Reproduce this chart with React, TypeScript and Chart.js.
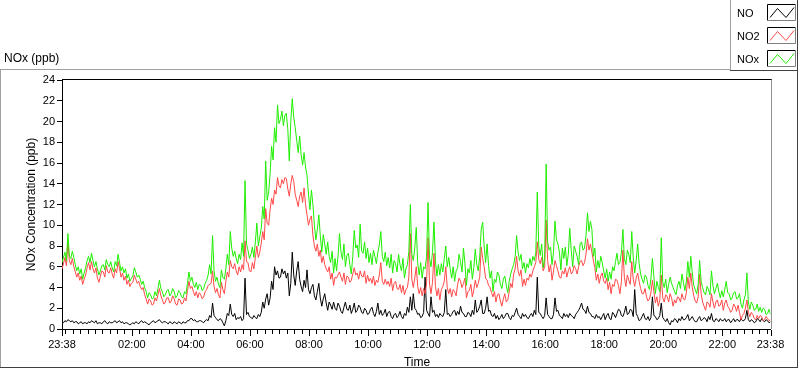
import React, { useEffect, useRef } from 'react';
import { Chart, registerables } from 'chart.js';

Chart.register(...registerables);

// Sampling interval of the series (minutes after 23:38)
const STEP_MINUTES = 3;

// NOx (ppb)
const NOX = [
  6.4, 6.9, 7.4, 6.6, 9.2, 7.0, 6.8, 7.5, 6.9, 6.2,
  5.6, 6.0, 5.3, 5.8, 4.8, 5.4, 5.9, 6.6, 7.0, 6.4,
  7.3, 6.6, 6.0, 6.5, 5.8, 5.2, 5.6, 6.1, 6.2, 5.7,
  6.7, 6.2, 6.0, 6.5, 5.9, 5.5, 6.5, 6.1, 7.2, 6.4,
  5.6, 6.0, 5.4, 5.8, 4.9, 5.3, 4.6, 4.9, 5.1, 5.9,
  5.5, 5.0, 5.2, 4.8, 4.3, 4.6, 4.0, 3.6, 3.0, 3.5,
  3.3, 2.9, 3.0, 3.6, 3.2, 3.9, 4.7, 3.9, 3.6, 3.1,
  3.3, 3.7, 3.8, 3.2, 3.4, 3.9, 3.6, 3.0, 3.2, 3.7,
  3.5, 3.1, 3.0, 3.6, 3.4, 4.4, 5.5, 4.6, 5.0, 4.3,
  4.0, 4.5, 3.8, 4.3, 4.2, 3.7, 3.9, 4.4, 4.7, 5.2,
  6.2, 5.3, 9.0, 5.6, 4.6, 5.0, 4.3, 4.0, 5.7, 5.0,
  4.8, 5.8, 7.2, 6.2, 9.4, 7.8, 7.0, 7.5, 6.8, 6.3,
  7.2, 6.7, 8.3, 7.0, 14.3, 8.2, 7.6, 6.8, 7.2, 7.9,
  6.9, 8.4, 10.2, 8.0, 8.9, 9.7, 11.8, 10.6, 16.2, 12.4,
  13.2, 15.0, 17.6, 16.3, 19.4, 18.0, 21.6, 19.8, 20.2, 21.0,
  19.6, 20.6, 20.8, 19.2, 16.2, 20.0, 22.2, 20.4, 19.4, 18.2,
  17.0, 18.6, 16.8, 15.8, 17.0, 15.6, 14.8, 13.0, 11.5, 13.4,
  12.0, 10.0, 8.6, 9.6, 11.0, 9.0, 7.4, 9.1, 8.2, 7.2,
  8.4, 7.0, 6.4, 7.5, 5.4, 6.8, 5.6, 7.0, 9.2, 7.4,
  6.7, 8.2, 6.0, 7.1, 7.3, 6.2, 5.3, 7.0, 9.5, 7.8,
  8.1, 6.9, 10.1, 7.5, 7.3, 8.4, 6.8, 7.8, 6.4, 7.3,
  6.2, 7.6, 7.0, 6.3, 7.4, 8.1, 9.4, 7.0, 6.5, 7.4,
  6.1, 6.9, 5.9, 7.2, 5.4, 6.6, 6.3, 5.5, 7.2, 6.2,
  5.6, 6.8, 4.9, 5.8, 6.2, 7.5, 12.0, 7.2, 6.6, 7.8,
  9.8, 6.3, 5.2, 6.4, 4.9, 6.0, 5.8, 7.0, 12.2, 6.8,
  6.0, 7.4, 10.3, 6.6, 5.1, 6.2, 5.2, 6.3, 5.5, 6.8,
  8.0, 6.0, 6.9, 5.8, 4.9, 6.0, 4.6, 5.6, 5.9, 7.2,
  6.5, 5.5, 7.8, 6.3, 4.2, 5.8, 5.4, 6.6, 4.8, 5.9,
  7.7, 6.2, 5.6, 7.0, 9.6, 10.3, 8.0, 6.4, 8.2, 6.1,
  4.9, 5.6, 3.6, 4.8, 4.5, 5.5, 5.2, 4.3, 3.9, 4.8,
  5.1, 4.2, 3.5, 4.6, 5.3, 5.8, 6.2, 7.0, 9.0, 7.4,
  6.6, 7.2, 5.8, 6.4, 5.4, 6.3, 5.9, 6.8, 6.1, 7.0,
  6.6, 7.4, 13.2, 8.0, 7.1, 8.2, 5.9, 6.8, 15.9, 8.4,
  7.6, 7.9, 6.2, 7.4, 10.4, 8.6, 8.2, 7.4, 5.7, 7.8,
  6.8, 7.9, 6.1, 7.2, 9.7, 7.6, 6.0, 8.0, 7.5, 7.0,
  6.2, 8.2, 8.4, 7.6, 7.8, 9.0, 11.2, 9.4, 10.4, 9.6,
  7.0, 7.8, 5.5, 6.6, 5.9, 7.0, 6.4, 5.6, 4.9, 5.8,
  4.6, 5.5, 4.8, 6.0, 5.6, 6.5, 7.3, 6.2, 6.4, 7.4,
  9.6, 6.8, 6.2, 7.6, 7.2, 6.4, 9.4, 6.9, 5.4, 6.6,
  8.2, 6.3, 5.3, 4.8, 4.4, 5.2, 5.0, 4.2, 3.8, 4.9,
  6.8, 5.0, 3.4, 4.6, 4.0, 3.6, 8.8, 4.5, 4.0, 4.8,
  3.5, 4.3, 5.0, 4.4, 4.0, 3.6, 3.3, 4.2, 4.6, 3.9,
  5.3, 4.5, 3.7, 4.6, 6.5, 5.0, 7.0, 5.4, 4.2, 3.8,
  3.4, 4.3, 6.6, 4.6, 4.0, 3.5, 3.3, 4.1, 3.8, 3.3,
  5.6, 4.2, 3.4, 3.9, 4.4, 3.6, 3.0, 3.7, 3.1, 3.8,
  4.6, 3.5, 3.4, 2.8, 3.0, 3.5, 3.6, 2.9, 3.0, 3.4,
  2.4, 2.0, 2.8, 3.3, 5.4, 2.6, 1.9, 2.6, 2.3, 1.8,
  1.9, 2.4, 1.7, 2.1, 1.6, 2.0, 1.9, 1.4, 1.5, 1.9,
  1.4,
];

// NO2 (ppb)
const NO2 = [
  5.8, 6.3, 6.9, 6.1, 8.4, 6.6, 6.2, 6.8, 6.0, 5.5,
  5.0, 5.4, 4.7, 5.1, 4.3, 4.8, 5.2, 5.9, 6.4, 5.7,
  6.5, 5.8, 5.4, 5.9, 4.9, 4.5, 5.1, 5.6, 5.5, 5.0,
  6.1, 5.5, 5.4, 5.9, 5.3, 4.9, 5.8, 5.4, 6.5, 5.8,
  5.0, 5.4, 4.7, 5.1, 4.3, 4.7, 4.1, 4.4, 4.5, 5.2,
  4.8, 4.4, 4.6, 4.1, 3.8, 4.0, 3.3, 2.9, 2.4, 2.9,
  2.7, 2.3, 2.4, 3.0, 2.7, 3.3, 3.9, 3.2, 2.8, 2.4,
  2.6, 3.0, 3.0, 2.5, 2.7, 3.2, 2.9, 2.4, 2.3, 2.9,
  2.8, 2.4, 2.5, 3.0, 2.7, 3.7, 4.6, 3.9, 4.1, 3.6,
  3.2, 3.6, 3.0, 3.5, 3.3, 2.9, 3.1, 3.6, 3.8, 4.2,
  4.3, 4.4, 5.6, 4.1, 3.5, 3.9, 3.3, 3.0, 4.5, 3.8,
  3.4, 4.6, 5.5, 5.0, 6.6, 6.0, 5.8, 6.3, 5.6, 5.2,
  6.0, 5.5, 6.2, 5.7, 8.5, 6.5, 6.4, 5.6, 5.5, 6.4,
  5.8, 6.9, 8.0, 6.9, 7.4, 8.3, 9.4, 8.6, 11.6, 10.2,
  10.0, 11.5, 12.6, 12.0, 13.4, 13.0, 14.6, 13.8, 13.6, 14.4,
  14.0, 14.6, 14.5, 13.5, 12.8, 14.0, 14.8, 14.2, 13.0, 12.4,
  11.8, 12.8, 13.2, 12.2, 13.6, 12.0, 11.0, 10.0, 10.6, 10.9,
  9.0, 8.0, 7.5, 8.2, 7.0, 7.6, 6.4, 7.0, 6.2, 5.8,
  5.5, 6.0, 4.8, 5.4, 4.2, 5.0, 4.9, 5.2, 5.5, 5.0,
  4.6, 5.4, 4.3, 5.1, 5.0, 4.5, 4.7, 5.3, 5.9, 5.2,
  5.4, 4.8, 5.6, 5.1, 5.0, 5.6, 4.4, 5.2, 4.6, 4.9,
  4.4, 5.1, 4.2, 4.7, 4.5, 5.2, 6.4, 4.6, 4.3, 4.8,
  4.3, 4.6, 4.1, 4.9, 3.7, 4.4, 4.6, 3.9, 3.8, 4.3,
  3.5, 4.2, 3.3, 3.8, 4.0, 5.0, 9.2, 4.8, 4.0, 4.9,
  6.0, 4.1, 3.4, 4.0, 3.2, 3.9, 3.4, 4.4, 8.8, 4.3,
  3.4, 4.5, 7.3, 4.1, 3.2, 3.9, 2.8, 3.8, 4.1, 4.6,
  6.0, 4.0, 3.4, 3.9, 3.1, 3.8, 3.6, 3.2, 4.3, 4.9,
  4.6, 4.0, 4.4, 4.9, 3.0, 3.6, 3.7, 4.3, 3.1, 3.8,
  4.7, 4.0, 4.4, 5.0, 7.9, 6.8, 6.0, 4.9, 4.7, 4.2,
  4.0, 3.5, 3.1, 3.6, 2.6, 3.3, 3.4, 2.7, 2.2, 2.9,
  3.4, 2.6, 2.8, 3.6, 4.4, 4.0, 5.3, 5.8, 7.0, 5.6,
  5.1, 5.7, 4.1, 4.8, 4.2, 4.9, 4.7, 5.3, 5.0, 5.6,
  6.0, 6.4, 8.4, 6.7, 6.3, 6.9, 5.6, 6.0, 10.5, 6.6,
  5.5, 6.2, 4.7, 5.6, 6.6, 6.1, 5.6, 5.0, 4.9, 5.6,
  5.3, 5.9, 5.0, 5.6, 6.0, 5.3, 5.5, 6.1, 5.8, 5.3,
  6.0, 6.5, 6.6, 6.1, 6.4, 7.2, 8.7, 7.6, 8.2, 7.4,
  6.6, 5.9, 4.7, 5.3, 4.4, 5.1, 5.4, 4.6, 4.4, 4.9,
  3.8, 4.5, 3.4, 4.3, 4.1, 4.8, 4.7, 4.2, 3.4, 4.6,
  7.6, 5.0, 4.1, 5.2, 4.7, 4.3, 6.5, 4.8, 4.1, 4.9,
  5.4, 4.6, 3.9, 3.4, 3.4, 3.9, 3.1, 2.7, 2.9, 3.5,
  4.7, 3.6, 2.5, 3.1, 2.2, 2.8, 5.2, 3.0, 2.6, 3.3,
  3.1, 2.6, 3.4, 3.0, 2.2, 2.8, 2.5, 3.1, 3.0, 2.6,
  3.4, 2.9, 2.8, 3.5, 5.0, 3.9, 5.4, 4.0, 3.2, 2.7,
  2.5, 3.1, 5.3, 3.4, 2.6, 2.2, 1.8, 2.6, 2.5, 2.1,
  3.4, 2.6, 2.0, 2.6, 2.8, 2.2, 2.3, 2.8, 1.8, 2.5,
  2.8, 2.2, 2.0, 1.6, 1.8, 2.4, 2.2, 1.7, 2.3, 1.6,
  0.9, 1.3, 1.5, 2.0, 2.8, 1.6, 1.2, 1.6, 1.4, 1.0,
  0.9, 1.3, 1.0, 1.3, 1.2, 0.8, 0.9, 1.2, 1.0, 0.8,
  0.9,
];

// NO (ppb)
const NO = [
  0.7, 0.6, 0.8, 0.7, 0.9, 0.8, 0.7, 0.8, 0.6, 0.7,
  0.7, 0.5, 0.6, 0.7, 0.5, 0.6, 0.6, 0.5, 0.7, 0.6,
  0.8, 0.7, 0.6, 0.8, 0.5, 0.6, 0.6, 0.5, 0.7, 0.8,
  0.6, 0.5, 0.7, 0.6, 0.6, 0.7, 0.8, 0.6, 0.7, 0.8,
  0.6, 0.7, 0.5, 0.6, 0.6, 0.5, 0.4, 0.5, 0.6, 0.5,
  0.7, 0.6, 0.5, 0.7, 0.8, 0.6, 0.7, 0.6, 0.5, 0.4,
  0.6, 0.7, 0.8, 0.6, 0.7, 0.8, 0.9, 0.7, 0.6, 0.7,
  0.7, 0.6, 0.5, 0.7, 0.6, 0.5, 0.7, 0.6, 0.5, 0.7,
  0.6, 0.5, 0.7, 0.6, 0.6, 0.8, 0.8, 1.0, 1.0, 0.8,
  0.9, 0.7, 0.7, 0.8, 0.8, 0.7, 0.6, 0.8, 0.9, 0.8,
  1.3, 1.1, 2.5, 1.3, 1.1, 0.9, 0.8, 1.0, 0.9, 0.6,
  0.3, 0.8, 1.5, 1.3, 2.4, 1.4, 1.2, 1.5, 0.9, 1.1,
  1.0, 1.2, 0.8, 1.0, 4.9, 1.4, 1.6, 1.2, 1.1, 1.0,
  1.3, 1.1, 1.0, 1.4, 1.2, 1.6, 2.6, 2.0, 2.9, 3.4,
  2.3, 3.0, 4.6, 3.8, 6.0, 5.2, 5.6, 4.9, 5.0, 5.8,
  5.3, 5.6, 4.9, 5.4, 3.2, 4.4, 7.4, 5.2, 4.2, 5.6,
  6.5, 4.8, 4.1, 3.6, 4.7, 4.0, 5.7, 3.8, 3.4, 4.0,
  4.3, 3.2, 2.8, 3.6, 4.4, 3.0, 2.2, 2.9, 3.4, 2.5,
  1.8, 2.6, 2.3, 1.9, 2.6, 2.0, 1.8, 2.5, 2.2, 1.7,
  1.5, 2.1, 2.6, 1.9, 1.8, 2.3, 1.5, 1.9, 2.5, 1.6,
  1.8, 2.3, 2.1, 1.6, 1.5, 2.0, 1.8, 1.4, 1.5, 1.9,
  2.1, 1.5, 1.2, 1.7, 2.5, 1.4, 1.8, 1.3, 1.5, 1.9,
  1.2, 1.6, 1.7, 1.2, 1.0, 1.4, 1.5, 1.1, 1.3, 1.7,
  1.2, 1.0, 1.5, 1.3, 2.1, 1.6, 3.1, 1.8, 3.4, 2.0,
  1.8, 1.4, 1.5, 1.1, 1.2, 1.6, 5.0, 1.8, 1.5, 1.2,
  3.1, 1.6, 1.8, 1.2, 1.4, 1.1, 1.5, 1.3, 1.2, 1.6,
  3.8, 1.4, 1.5, 1.2, 1.4, 1.7, 1.8, 1.3, 1.7, 1.4,
  2.2, 1.6, 1.5, 1.2, 1.2, 1.6, 1.5, 1.2, 1.8, 1.4,
  2.8, 1.6, 1.8, 2.2, 2.8, 1.5, 1.5, 2.0, 3.1, 1.7,
  1.8, 1.3, 1.2, 1.5, 1.0, 1.3, 0.9, 1.1, 1.4, 1.0,
  1.2, 1.5, 1.5, 1.1, 0.9, 1.3, 1.2, 1.6, 2.0, 1.4,
  1.2, 1.0, 1.5, 1.2, 1.4, 1.1, 1.0, 1.3, 1.5, 1.2,
  1.8, 1.4, 5.0, 1.6, 1.5, 1.2, 1.0, 1.3, 3.0, 1.4,
  1.2, 1.0, 1.0, 1.4, 3.0, 1.7, 1.8, 1.3, 1.2, 1.0,
  1.5, 1.2, 1.4, 1.1, 1.5, 1.3, 1.2, 1.0, 1.4, 1.6,
  1.8, 2.1, 2.5, 1.9, 1.8, 1.5, 2.2, 1.6, 1.5, 1.2,
  1.2, 1.0, 1.4, 1.1, 1.2, 0.9, 1.2, 1.5, 0.9, 1.3,
  1.5, 1.0, 0.9, 1.6, 1.4, 1.1, 1.5, 1.9, 1.8, 1.3,
  1.2, 1.6, 2.2, 1.4, 1.5, 1.9, 1.8, 1.2, 3.8, 1.5,
  1.2, 0.8, 0.9, 1.2, 1.5, 1.0, 0.9, 1.2, 0.8, 1.1,
  3.1, 1.3, 1.2, 0.9, 1.0, 1.3, 2.5, 1.1, 0.9, 0.7,
  1.0, 0.6, 0.4, 0.8, 0.7, 1.0, 0.9, 0.6, 1.0, 0.8,
  1.2, 0.9, 0.9, 1.1, 1.4, 0.8, 1.0, 1.2, 0.9, 0.7,
  0.7, 1.0, 1.2, 0.8, 0.9, 1.1, 1.0, 0.7, 1.2, 0.9,
  1.5, 0.8, 0.7, 1.0, 0.9, 0.7, 1.0, 0.8, 0.8, 1.0,
  0.7, 0.9, 0.9, 0.6, 0.8, 1.0, 0.7, 0.9, 0.9, 0.7,
  1.0, 0.8, 0.8, 1.0, 1.8, 0.9, 0.7, 0.9, 0.8, 0.6,
  0.7, 1.0, 0.9, 0.7, 1.0, 0.8, 0.7, 0.9, 0.8, 0.6,
  0.7,
];

// Time axis: minutes after 23:38, labelled ticks
const TICK_MINUTES = [0, 142, 262, 382, 502, 622, 742, 862, 982, 1102, 1222, 1342, 1440];
const TICK_LABELS = ['23:38', '02:00', '04:00', '06:00', '08:00', '10:00', '12:00', '14:00', '16:00', '18:00', '20:00', '22:00', '23:38'];
const MINOR_TICK_START = 7; // 23:45
const MINOR_TICK_STEP = 15;
const X_MAX = 1440;

const Y_TICKS = [0, 2, 4, 6, 8, 10, 12, 14, 16, 18, 20, 22, 24];

const SERIES_NAMES = ['NO', 'NO2', 'NOx'];
const SERIES_COLORS = ['#000000', '#FF4848', '#1EEE00'];

const FONT = '"Liberation Sans", Arial, sans-serif';

const toPoints = (arr: number[]) => arr.map((v, i) => ({ x: i * STEP_MINUTES, y: v }));

const decorPlugin = {
  id: 'decor',
  beforeDraw(chart: any) {
    const ctx = chart.ctx;
    ctx.save();
    ctx.fillStyle = '#FFFFFF';
    ctx.fillRect(0, 0, chart.width, chart.height);
    ctx.restore();
  },
  afterDraw(chart: any) {
    const ctx = chart.ctx as CanvasRenderingContext2D;
    const area = chart.chartArea;
    const xs = chart.scales.x;
    const line = (x1: number, y1: number, x2: number, y2: number, c: string) => {
      ctx.strokeStyle = c;
      ctx.beginPath();
      ctx.moveTo(x1, y1);
      ctx.lineTo(x2, y2);
      ctx.stroke();
    };
    ctx.save();
    ctx.lineWidth = 1;

    // outer frame
    line(0, 69.5, 730, 69.5, '#A0A0A0');
    line(0.5, 69.5, 0.5, 368, '#A0A0A0');
    line(0, 367.5, 798, 367.5, '#404040');
    line(797.5, 0, 797.5, 368, '#404040');

    // legend box
    line(730.5, 0, 730.5, 71, '#A0A0A0');
    line(730, 70.5, 798, 70.5, '#404040');

    // plot area borders
    line(area.left, Math.round(area.top) - 0.5, 772, Math.round(area.top) - 0.5, '#000000');
    line(771.5, Math.round(area.top) - 0.5, 771.5, Math.round(area.bottom), '#909090');

    // x tick marks
    const axisY = Math.round(area.bottom) + 1;
    for (let m = MINOR_TICK_START; m < X_MAX; m += MINOR_TICK_STEP) {
      const px = Math.round(xs.getPixelForValue(m)) + 0.5;
      line(px, axisY, px, axisY + 4, '#000000');
    }
    TICK_MINUTES.forEach((m) => {
      const px = Math.round(xs.getPixelForValue(m)) + 0.5;
      line(px, axisY, px, axisY + 6, '#000000');
    });

    // titles
    ctx.fillStyle = '#000000';
    ctx.font = `12px ${FONT}`;
    ctx.textBaseline = 'alphabetic';
    ctx.textAlign = 'left';
    ctx.fillText('NOx (ppb)', 4, 62);
    ctx.textAlign = 'center';
    ctx.fillText('Time', 417, 366);
    ctx.save();
    ctx.translate(35, (area.top + area.bottom) / 2);
    ctx.rotate(-Math.PI / 2);
    ctx.fillText('NOx Concentration (ppb)', 0, 0);
    ctx.restore();

    // legend items
    ctx.font = `11px ${FONT}`;
    ctx.textAlign = 'left';
    SERIES_NAMES.forEach((name, k) => {
      const top = 4 + k * 23;
      ctx.fillStyle = '#000000';
      ctx.fillText(name, 737, top + 13);
      const x0 = 767.5;
      const y0 = top + 0.5;
      const w = 28;
      const h = 16;
      ctx.fillStyle = '#FFFFFF';
      ctx.fillRect(x0, y0, w, h);
      line(x0, y0, x0 + w, y0, '#000000');
      line(x0, y0, x0, y0 + h, '#000000');
      line(x0 + w, y0, x0 + w, y0 + h, '#808080');
      line(x0, y0 + h, x0 + w, y0 + h, '#808080');
      ctx.strokeStyle = SERIES_COLORS[k];
      ctx.beginPath();
      ctx.moveTo(x0 + 2.5, y0 + 13);
      ctx.lineTo(x0 + 10, y0 + 4);
      ctx.lineTo(x0 + 18.5, y0 + 13);
      ctx.lineTo(x0 + 26.5, y0 + 3);
      ctx.stroke();
    });
    ctx.restore();
  },
};

export default function App() {
  const canvasRef = useRef<HTMLCanvasElement | null>(null);

  useEffect(() => {
    document.body.style.margin = '0';
    const canvas = canvasRef.current;
    if (!canvas) return;
    const chart = new Chart(canvas, {
      type: 'line',
      data: {
        datasets: [
          { label: 'NOx', data: toPoints(NOX), borderColor: SERIES_COLORS[2], borderWidth: 1, pointRadius: 0, tension: 0 },
          { label: 'NO2', data: toPoints(NO2), borderColor: SERIES_COLORS[1], borderWidth: 1, pointRadius: 0, tension: 0 },
          { label: 'NO', data: toPoints(NO), borderColor: SERIES_COLORS[0], borderWidth: 1, pointRadius: 0, tension: 0 },
        ],
      },
      options: {
        animation: false,
        responsive: false,
        maintainAspectRatio: false,
        devicePixelRatio: 1,
        layout: { padding: { left: 0, top: 80, right: 29.5, bottom: 0 } },
        plugins: {
          legend: { display: false },
          tooltip: { enabled: false },
          title: { display: false },
        },
        scales: {
          x: {
            type: 'linear',
            min: 0,
            max: X_MAX,
            afterBuildTicks: (s: any) => {
              s.ticks = TICK_MINUTES.map((v) => ({ value: v }));
            },
            afterFit: (s: any) => {
              s.height = 40;
            },
            ticks: {
              autoSkip: false,
              maxRotation: 0,
              minRotation: 0,
              padding: 9,
              color: '#000000',
              font: { family: FONT, size: 11 },
              callback: (_v: any, idx: number) => TICK_LABELS[idx],
            },
            grid: { display: false, drawTicks: false },
            border: { display: true, color: '#000000', width: 1 },
          },
          y: {
            min: 0,
            max: 24,
            afterBuildTicks: (s: any) => {
              s.ticks = Y_TICKS.map((v) => ({ value: v }));
            },
            afterFit: (s: any) => {
              s.width = 62;
            },
            ticks: {
              padding: 2,
              color: '#000000',
              font: { family: FONT, size: 11 },
              callback: (v: any) => String(v),
            },
            grid: { display: true, drawOnChartArea: false, drawTicks: true, tickLength: 5, color: '#000000' },
            border: { display: true, color: '#000000', width: 1 },
          },
        },
      },
      plugins: [decorPlugin],
    } as any);
    return () => chart.destroy();
  }, []);

  return (
    <div style={{ width: 800, height: 369 }}>
      <canvas ref={canvasRef} width={800} height={369} style={{ display: 'block', width: 800, height: 369 }} />
    </div>
  );
}
